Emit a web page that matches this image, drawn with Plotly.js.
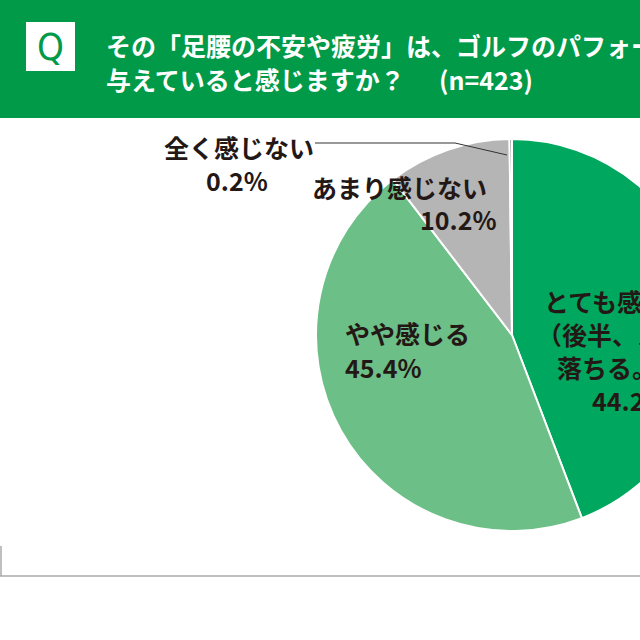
<!DOCTYPE html>
<html>
<head>
<meta charset="utf-8">
<script src="https://cdn.plot.ly/plotly-3.0.1.min.js"></script>
<style>
  html, body { margin: 0; padding: 0; overflow: hidden; background: #fff; }
  #chart { width: 1000px; height: 640px; }
</style>
</head>
<body>
<div id="chart"></div>
<script>
'use strict';

// answers, in clockwise order from 12 o'clock
var answers = ['とても感じる', 'やや感じる', 'あまり感じない', '全く感じない'];
var shares = [44.2, 45.4, 10.2, 0.2];
var sliceColors = ['#00a85f', '#6cbf86', '#b5b5b5', '#5a5858'];

var title1 = 'その「足腰の不安や疲労」は、ゴルフのパフォーマンスに影響を';
var title2 = '与えていると感じますか？';
var sampleSize = '(n=423)';

var W = 1000, H = 640;
function px(x) { return x / W; }
function py(y) { return 1 - y / H; }

var font = 'Noto Sans CJK JP, Noto Sans CJK SC, sans-serif';
var ink = '#231815';

var pieData = [{
  type: 'pie',
  labels: answers,
  values: shares,
  sort: false,
  direction: 'clockwise',
  rotation: 0,
  textinfo: 'none',
  hoverinfo: 'skip',
  marker: { colors: sliceColors, line: { color: '#ffffff', width: 2 } },
  domain: { x: [px(316), px(708)], y: [py(531), py(139)] }
}];

function label(text, x, y, anchor, size) {
  return {
    xref: 'paper', yref: 'paper', x: px(x), y: py(y),
    xanchor: anchor || 'left', yanchor: 'middle',
    text: text, showarrow: false,
    font: { family: font, size: size || 25, color: ink, weight: 'bold' }
  };
}

var notes = [
  // header
  { xref: 'paper', yref: 'paper', x: px(50), y: py(47), xanchor: 'center', yanchor: 'middle',
    text: 'Q', showarrow: false,
    font: { family: 'Liberation Sans Narrow, DejaVu Sans Condensed, sans-serif', size: 38, color: '#009a48' } },
  { xref: 'paper', yref: 'paper', x: px(104), y: py(45), xanchor: 'left', yanchor: 'middle',
    text: title1, showarrow: false,
    font: { family: font, size: 25, color: '#ffffff', weight: 'bold' } },
  { xref: 'paper', yref: 'paper', x: px(104), y: py(79), xanchor: 'left', yanchor: 'middle',
    text: title2, showarrow: false,
    font: { family: font, size: 25, color: '#ffffff', weight: 'bold' } },
  { xref: 'paper', yref: 'paper', x: px(437), y: py(79), xanchor: 'left', yanchor: 'middle',
    text: sampleSize, showarrow: false,
    font: { family: font, size: 25, color: '#ffffff', weight: 'bold' } },

  // slice labels
  label(answers[3], 162, 147),
  label(shares[3].toFixed(1) + '%', 237, 180, 'center'),
  label(answers[2], 310, 187),
  label(shares[2].toFixed(1) + '%', 498, 219, 'right'),
  label(answers[1], 343, 333),
  label(shares[1].toFixed(1) + '%', 343, 367),
  label(answers[0], 542, 301),
  label('（後半、スコアが', 535, 334),
  label('落ちる。）', 555, 367),
  label(shares[0].toFixed(1) + '%', 590, 400)
];

var shapes = [
  { type: 'rect', xref: 'paper', yref: 'paper', x0: 0, x1: 1, y0: py(118), y1: 1,
    fillcolor: '#009a48', line: { width: 0 }, layer: 'below' },
  { type: 'rect', xref: 'paper', yref: 'paper', x0: px(26), x1: px(75), y0: py(71), y1: py(22),
    fillcolor: '#ffffff', line: { width: 0 } },
  // leader for the tiny slice
  { type: 'path', xref: 'paper', yref: 'paper',
    path: 'M ' + px(315) + ' ' + py(143) + ' L ' + px(455) + ' ' + py(143) + ' L ' + px(507) + ' ' + py(155),
    line: { color: '#333333', width: 1 } },
  // frame bits at the bottom
  { type: 'line', xref: 'paper', yref: 'paper', x0: 0, x1: 1, y0: py(576), y1: py(576),
    line: { color: '#aaaaaa', width: 1.5 } },
  { type: 'line', xref: 'paper', yref: 'paper', x0: px(1), x1: px(1), y0: py(576), y1: py(546),
    line: { color: '#aaaaaa', width: 1.5 } }
];

var layout = {
  width: W,
  height: H,
  margin: { l: 0, r: 0, t: 0, b: 0 },
  paper_bgcolor: '#ffffff',
  showlegend: false,
  annotations: notes,
  shapes: shapes
};

Plotly.newPlot('chart', pieData, layout, { displayModeBar: false, staticPlot: true });
</script>
</body>
</html>
